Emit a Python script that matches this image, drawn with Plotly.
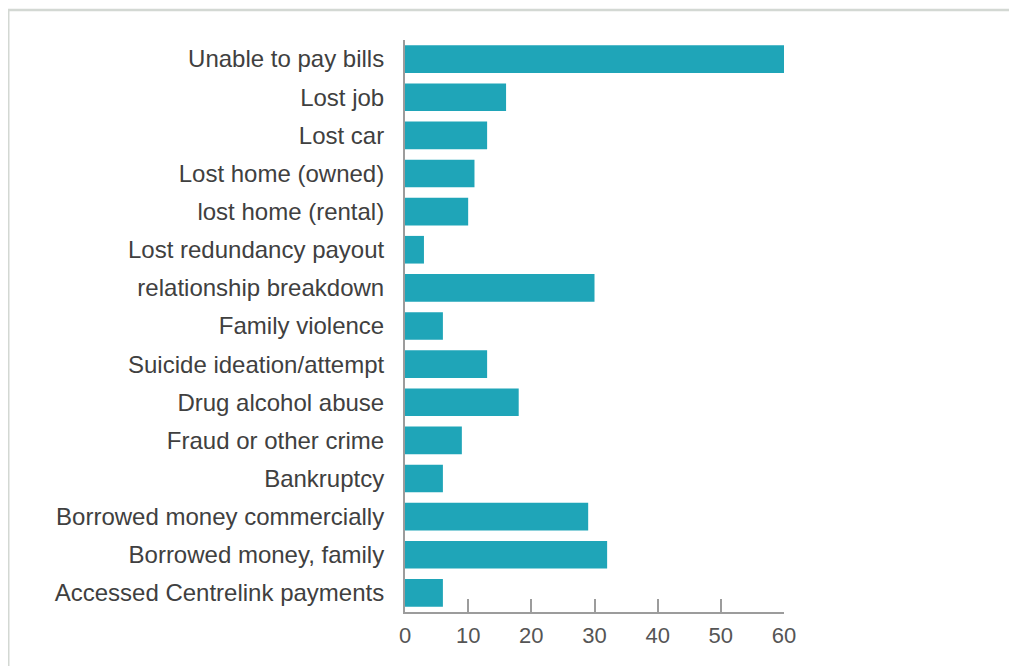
import plotly.graph_objects as go

categories = [
    "Unable to pay bills",
    "Lost job",
    "Lost car",
    "Lost home (owned)",
    "lost home (rental)",
    "Lost redundancy payout",
    "relationship breakdown",
    "Family violence",
    "Suicide ideation/attempt",
    "Drug alcohol abuse",
    "Fraud or other crime",
    "Bankruptcy",
    "Borrowed money commercially",
    "Borrowed money, family",
    "Accessed Centrelink payments",
]
values = [60, 16, 13, 11, 10, 3, 30, 6, 13, 18, 9, 6, 29, 32, 6]
x_ticks = [0, 10, 20, 30, 40, 50, 60]

# page has an 8px body offset
W, H = 1009, 658
L, T = 397, 32
R = W - 776
B = H - 604
pw, ph = W - L - R, H - T - B

def px(xp):
    return (xp - L) / pw

def py(yp):
    return (H - B - yp) / ph

fig = go.Figure(go.Bar(
    x=values, y=categories, orientation="h",
    marker=dict(color="#1fa5b8", line=dict(width=0)),
))

fig.update_layout(
    width=W, height=H,
    margin=dict(l=L, r=R, t=T, b=B, autoexpand=False),
    paper_bgcolor="white", plot_bgcolor="white",
    bargap=0.275, showlegend=False,
    font=dict(family="Liberation Sans, Arial, sans-serif"),
    shapes=[
        dict(type="line", xref="paper", yref="paper",
             x0=px(0.5), x1=px(0.5), y0=py(2), y1=py(H + 5),
             line=dict(color="#d3d8d3", width=2)),
        dict(type="line", xref="paper", yref="paper",
             x0=px(0), x1=px(W + 5), y0=py(2), y1=py(2),
             line=dict(color="#d3d8d3", width=2.5)),
    ],
)

fig.update_xaxes(
    range=[0, 60], tickvals=x_ticks, ticktext=[str(v) for v in x_ticks],
    showgrid=False, zeroline=False,
    showline=True, linecolor="#9c9c9c", linewidth=2,
    ticks="inside", ticklen=13, tickwidth=2, tickcolor="#9c9c9c",
    tickfont=dict(size=22, color="#555555"),
    ticklabelstandoff=3,
)
fig.update_yaxes(
    categoryorder="array", categoryarray=categories, autorange="reversed",
    showgrid=False, zeroline=False,
    showline=True, linecolor="#9c9c9c", linewidth=2,
    ticks="", tickfont=dict(size=24, color="#404040"),
    ticklabelstandoff=14,
)

fig.write_html("out.html")
